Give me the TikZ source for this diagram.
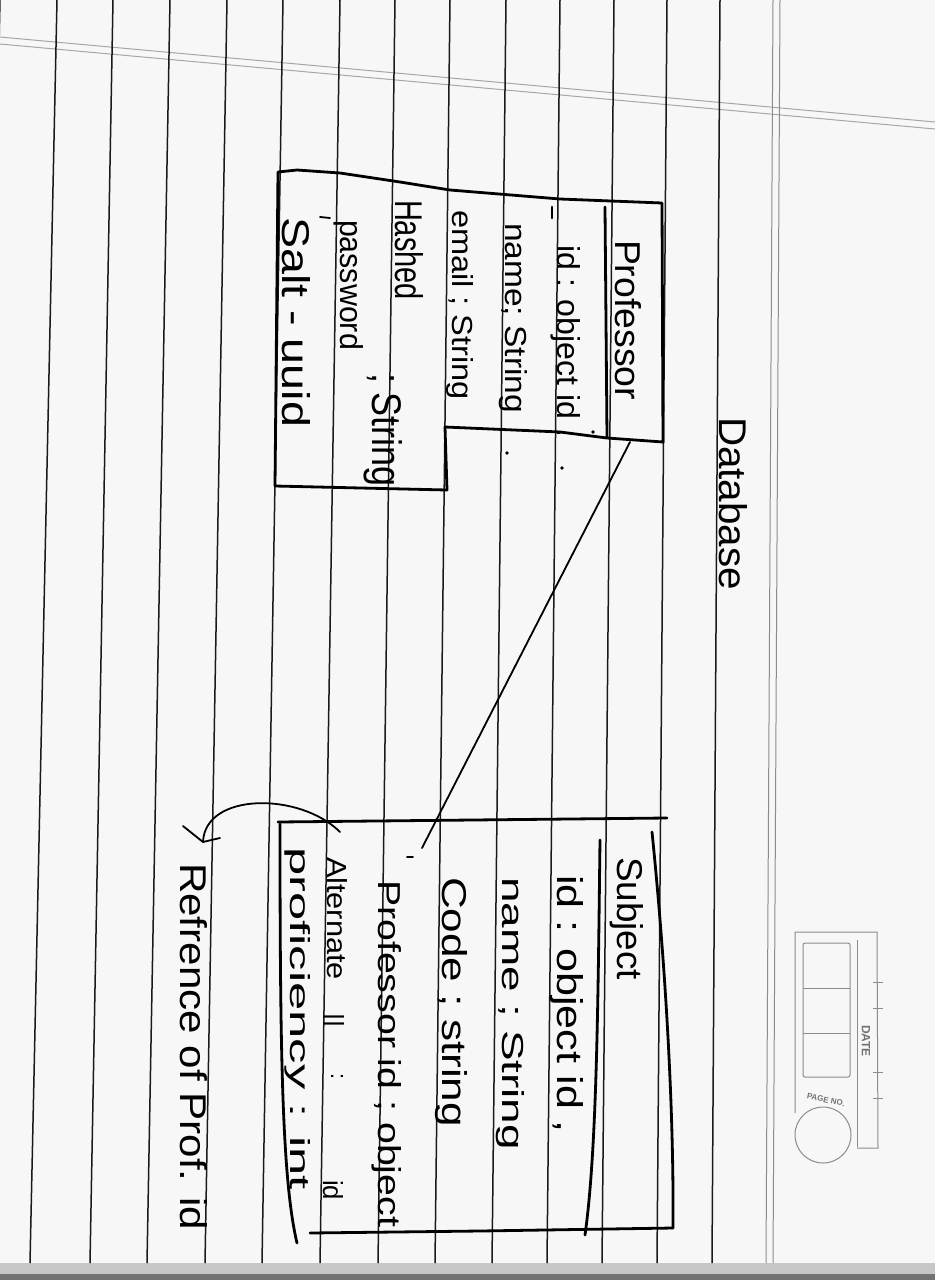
\documentclass[tikz,border=0pt]{standalone}
\usepackage{fontspec}
\setmainfont{Liberation Sans}
\usepackage{graphicx}
\newcommand\hw[3]{\resizebox{#1pt}{#2pt}{#3}}
\begin{document}
\begin{tikzpicture}[x=1pt,y=-1pt,
  rule/.style={black!90,line width=1.5pt},
  marginline/.style={black!45,line width=1pt},
  ink/.style={black,line width=2.8pt,line cap=round,line join=round},
  thinink/.style={black,line width=1.8pt,line cap=round,line join=round},
  hwtext/.style={rotate=-90,anchor=base west,inner sep=0pt,outer sep=0pt,text=black},
  stamp/.style={black!45,line width=1pt}]
\useasboundingbox (0,0) rectangle (935,1280);
\fill[black!3] (0,0) rectangle (935,1280);
% bottom page edge
\fill[black!22] (0,1263) rectangle (935,1280);
\fill[black!55] (0,1274) rectangle (935,1280);
% top grey double line
\draw[black!35,line width=1pt] (0,37) -- (935,122);
\draw[black!35,line width=1pt] (0,44) -- (935,129);
% ruled lines
\foreach \a/\b in {0/-27,57/30,113/90,170/147,227/205,283/262,340/320,395/378,450/435,506/492,560/547,614/602,667/657,720/712}
  \draw[rule] (\a,0) -- (\b,1263);
\draw[marginline] (773,0) -- (766,1263);
\draw[marginline] (780,0) -- (773,1263);

% title
\node[hwtext] (dbtitle) at (719,417) {\hw{173}{28}{Database}};

% Professor box
\draw[ink] (278,172) -- (297,170) -- (340,173) -- (400,182) -- (450,190) -- (560,199) -- (662,203) -- (663,442) -- (607,438) -- (560,432) -- (445,427) -- (447,490) -- (275,486) -- cycle;
\draw[ink] (605,207) -- (607,437);
\node[hwtext] (ptitle) at (615,240) {\hw{160}{26}{Professor}};
\node[hwtext] (pid) at (557,245) {\hw{192}{23}{id : object id .}};
\node[hwtext] (pname) at (505,223) {\hw{190}{22}{name; String}};
\node[hwtext] (pemail) at (452,210) {\hw{190}{21}{email ; String}};
\node[hwtext] (phash) at (395,200) {\hw{100}{28}{Hashed}};
\node[hwtext] (phtype) at (372,373) {\hw{114}{30}{; String}};
\node[hwtext] (ppass) at (340,220) {\hw{130}{23}{password}};
\node[hwtext] (psalt) at (282,217) {\hw{210}{28}{Salt - uuid}};
\draw[ink] (552,207) -- (552,218);
\draw[thinink] (320,217) -- (330,218);
\fill (507,453) circle[radius=1.8pt];
\fill (562,468) circle[radius=1.8pt];
\fill (593,432) circle[radius=1.8pt];

% Subject box
\draw[ink] (278,822) -- (667,818);
\draw[ink] (280,824) .. controls (280,1050) and (282,1180) .. (297,1243);
\draw[ink] (310,1233) -- (480,1231) -- (673,1228);
\draw[ink] (652,832) .. controls (664,950) and (674,1100) .. (673,1228);
\draw[ink] (600,840) .. controls (598,1000) and (597,1150) .. (585,1235);
\node[hwtext] (stitle) at (617,857) {\hw{123}{26}{Subject}};
\node[hwtext] (sid) at (557,875) {\hw{258}{26}{id : object id ,}};
\node[hwtext] (sname) at (502,877) {\hw{273}{22}{name ; String}};
\node[hwtext] (scode) at (442,877) {\hw{250}{25}{Code ; string}};
\node[hwtext] (sprof) at (378,880) {\hw{347}{23}{Professor id ;  object}};
\node[hwtext] (salt) at (327,857) {\hw{123}{20}{Alternate}};
\node[hwtext] (saltd) at (328,1013) {\hw{14}{16}{||}};
\node[hwtext] (saltc) at (331,1073) {\hw{6}{12}{:}};
\node[hwtext] (saltid) at (323,1180) {\hw{20}{20}{id}};
\node[hwtext] (sprofi) at (290,847) {\hw{343}{20}{proficiency : int}};
\draw[thinink] (407,857) -- (413,857);

% connector professor -> subject
\coordinate (pk) at (630,442);
\coordinate (fk) at (422,848);
\draw[thinink] (pk) -- (fk);

% reference note
\node[hwtext] (refnote) at (180,863) {\hw{367}{27}{Refrence of Prof. id}};
\coordinate (altrow) at (340,832);
\coordinate (refend) at (203,842);
\draw[thinink] (altrow) .. controls (300,792) and (205,792) .. (refend);
\draw[thinink] (183,826) -- (refend) -- (220,838);

% DATE / PAGE NO stamp
\draw[stamp] (795,1113) -- (795,932) -- (877,932) -- (878,1148) -- (857,1148);
\draw[stamp] (857,940) -- (857,1147);
\draw[stamp,rounded corners=2pt] (803,943) rectangle (850,1077);
\draw[stamp] (803,988) -- (850,988);
\draw[stamp] (803,1033) -- (850,1033);
\foreach \t in {982,1008,1072,1098} \draw[stamp] (873,\t) -- (883,\t);
\node[rotate=-90,inner sep=0pt,font=\bfseries\fontsize{12}{12}\selectfont,text=black!55] (datelbl) at (866,1041) {DATE};
\draw[stamp] (823,1135) circle[radius=28pt];
\node[rotate=-12,inner sep=0pt,font=\bfseries\fontsize{8}{8}\selectfont,text=black!55] (pagelbl) at (826,1100) {PAGE NO.};
\end{tikzpicture}
\end{document}
